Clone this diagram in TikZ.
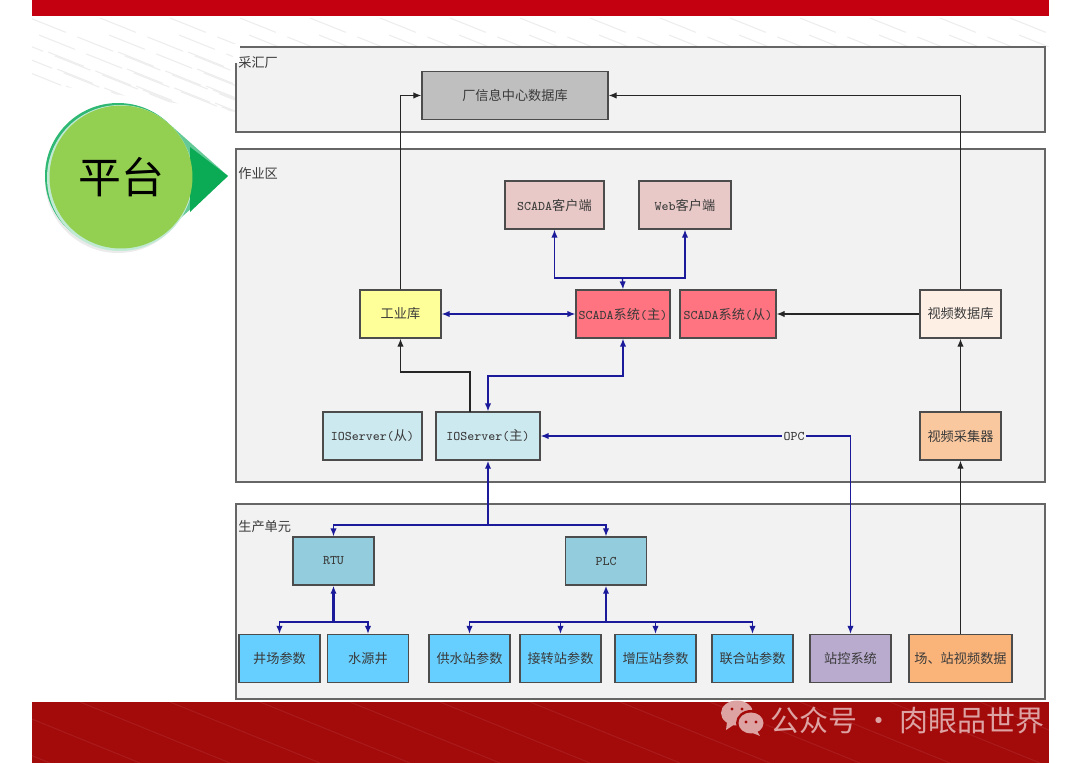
\documentclass[tikz,border=0pt]{standalone}
\usepackage{fontspec}
\setmainfont{Noto Sans CJK SC}
\usepackage{tikz}
\usetikzlibrary{arrows.meta}
\definecolor{barred}{HTML}{C40010}
\definecolor{footred}{HTML}{A30A0A}
\definecolor{panelbg}{HTML}{F2F2F2}
\definecolor{ink}{HTML}{3A3A3A}
\definecolor{linkblue}{HTML}{1A1A9A}
\definecolor{dbgray}{HTML}{BFBFBF}
\definecolor{clientc}{HTML}{E8C9C7}
\definecolor{scadac}{HTML}{FF7480}
\definecolor{iodbc}{HTML}{FFFF99}
\definecolor{videodb}{HTML}{FDEFE4}
\definecolor{ioc}{HTML}{CDE9F0}
\definecolor{capc}{HTML}{FAC89E}
\definecolor{unitc}{HTML}{93CDDD}
\definecolor{leafc}{HTML}{66CFFF}
\definecolor{stationc}{HTML}{B8ABCE}
\definecolor{videoc}{HTML}{FAB47A}
\definecolor{badge}{HTML}{93CF50}
\definecolor{badgerim}{HTML}{2FB874}
\definecolor{badgetip}{HTML}{0BAA55}
\definecolor{wmarkc}{HTML}{DDA3A3}
\newcommand{\lat}[1]{{\ttfamily #1}}
\tikzset{
  every node/.append style={text=ink},
}

\begin{document}
\begin{tikzpicture}[
    x=0.02cm, y=-0.02cm,
    >={Latex[length=4.5pt, width=3.6pt]},
    font=\fontsize{7.5}{9}\selectfont,
    panel/.style={draw=black!60, line width=0.7pt, fill=panelbg},
    lab/.style={anchor=west, inner sep=0pt},
    bx/.style={draw=black!70, line width=0.8pt, inner sep=0pt, minimum height=0.96cm,
               minimum width=1.62cm, align=center},
    dark/.style={->, line width=0.6pt, black!85},
    bluelink/.style={line width=0.7pt, linkblue},
    bluebus/.style={line width=1.2pt, linkblue},
]
\useasboundingbox (0,0) rectangle (1080,763);

% red bars
\fill[barred] (32,0) rectangle (1049,16);
\fill[footred] (32,702) rectangle (1049,763);
\begin{scope}
  \clip (32,702) rectangle (1049,763);
  \foreach \i in {0,...,14}
    \draw[white, opacity=0.07, line width=0.6pt] (\i*90-100,702) -- ++(150,61);
\end{scope}

% faint hatching
\begin{scope}
  \clip (32,18) -- (1049,18) -- (1049,47) -- (236,47) -- (236,112) -- (32,82) -- cycle;
  \foreach \i in {0,...,16}
    \foreach \j in {0,...,5}
      \draw[black!7, line width=0.6pt, dash pattern=on 22pt off 7pt]
        (\i*70-40+\j*9,18+\j*17) -- ++(220,88);
\end{scope}

% panels
\draw[panel] (236,47) rectangle (1045,132);
\draw[panel] (236,149) rectangle (1045,482);
\draw[panel] (236,504) rectangle (1045,699);
\fill[white] (233,44) rectangle (240,63);
\node[lab] (plant) at (238,63) {采汇厂};
\node[lab] (area) at (238,174) {作业区};
\node[lab] (prod) at (238,527) {生产单元};

% badge
\fill[black!8] (118,180) circle (73);
\fill[badgerim!75] (228,176) -- (166.4,121.4) -- (166.4,230.6) -- cycle;
\fill[badgerim] (118,176) circle (73);
\fill[white!70!badgerim] (120,178) circle (73);
\fill[badgetip] (228,176) -- (190,147) -- (190,212) -- cycle;
\node[circle, fill=badge, minimum size=2.86cm, inner sep=0pt, text=black,
      font=\fontsize{24.4}{28}\selectfont] (badge) at (121,177) {平台};

% top level
\node[bx, fill=dbgray, minimum width=3.72cm] (centerdb) at (515,95.5) {厂信息中心数据库};

% work area
\node[bx, fill=clientc, minimum width=1.98cm] (scadaclient) at (554.5,205) {\lat{SCADA}客户端};
\node[bx, fill=clientc, minimum width=1.84cm] (webclient) at (685,205) {\lat{Web}客户端};
\node[bx, fill=iodbc] (iodb) at (400.5,314) {工业库};
\node[bx, fill=scadac, minimum width=1.88cm] (scadam) at (623,314) {\lat{SCADA}系统\lat{(}主\lat{)}};
\node[bx, fill=scadac, minimum width=1.92cm] (scadas) at (728,314) {\lat{SCADA}系统\lat{(}从\lat{)}};
\node[bx, fill=videodb] (viddb) at (960.5,314) {视频数据库};
\node[bx, fill=ioc, minimum width=1.98cm] (ios) at (372.5,436) {\lat{IOServer(}从\lat{)}};
\node[bx, fill=ioc, minimum width=2.08cm] (iom) at (488,436) {\lat{IOServer(}主\lat{)}};
\node[bx, fill=capc] (vidcap) at (960.5,436) {视频采集器};

% production units
\node[bx, fill=unitc] (rtu) at (333.5,561) {\lat{RTU}};
\node[bx, fill=unitc] (plc) at (606,561) {\lat{PLC}};
\node[bx, fill=leafc] (wellf) at (279.5,658.5) {井场参数};
\node[bx, fill=leafc] (wsrc) at (368,658.5) {水源井};
\node[bx, fill=leafc] (supply) at (469.5,658.5) {供水站参数};
\node[bx, fill=leafc] (transf) at (560.5,658.5) {接转站参数};
\node[bx, fill=leafc] (boost) at (655.5,658.5) {增压站参数};
\node[bx, fill=leafc] (joint) at (752.5,658.5) {联合站参数};
\node[bx, fill=stationc] (stctl) at (850.5,658.5) {站控系统};
\node[bx, fill=videoc, minimum width=2.06cm] (vidsrc) at (960.5,658.5) {场、站视频数据};

% junctions
\coordinate (clientbus) at (622.5,278);
\coordinate (scadaturn) at (488,376);
\coordinate (iobend) at (470,372);
\coordinate (iotap) at (470,412);
\coordinate (fieldbus) at (488,525);
\coordinate (rtubus) at (333.5,622);
\coordinate (plcbus) at (606,622);
\coordinate (opcturn) at (850.5,436);

% black links
\draw[dark] (iodb.north) |- (centerdb.west);
\draw[dark] (viddb.north) |- (centerdb.east);
\draw[dark] (viddb.west) -- (scadas.east);
\draw[dark] (vidcap.north) -- (viddb.south);
\draw[dark] (vidsrc.north) -- (vidcap.south);
\draw[dark] (iotap) -- (iobend) -| (iodb.south);

% blue links
\draw[bluelink, <-] (scadaclient.south) |- (clientbus);
\draw[bluelink, <-] (webclient.south) |- (clientbus);
\draw[bluelink, ->] (clientbus) -- (scadam.north);
\draw[bluelink, <->] (iodb.east) -- (scadam.west);
\draw[bluelink, <->] (scadam.south) |- (scadaturn) -- (iom.north);
\draw[bluelink, <->] (iom.east) -- (opcturn) -- (stctl.north);
\node[fill=panelbg, inner sep=1pt] (opc) at (794,436) {\lat{OPC}};

\draw[bluebus, ->] (fieldbus) -- (iom.south);
\draw[bluelink, ->] (fieldbus) -| (rtu.north);
\draw[bluelink, ->] (fieldbus) -| (plc.north);
\draw[bluebus, ->] (rtubus) -- (rtu.south);
\draw[bluelink, ->] (rtubus) -| (wellf.north);
\draw[bluelink, ->] (rtubus) -| (wsrc.north);
\draw[bluebus, ->] (plcbus) -- (plc.south);
\draw[bluelink, ->] (plcbus) -| (supply.north);
\draw[bluelink, ->] (plcbus) -| (transf.north);
\draw[bluelink, ->] (plcbus) -| (boost.north);
\draw[bluelink, ->] (plcbus) -| (joint.north);

% watermark
\fill[wmarkc] (737,713) ellipse (16 and 12.5);
\fill[wmarkc] (727,722) -- (726,730) -- (735,724) -- cycle;
\fill[footred] (751,723) ellipse (15 and 13);
\fill[wmarkc] (751,723) ellipse (12.5 and 10.5);
\fill[wmarkc] (757,731) -- (760,736) -- (750,732) -- cycle;
\foreach \ex/\ey in {732/709, 742/709, 746/722, 756/722}
  \fill[footred] (\ex,\ey) circle (1.6);
\node[anchor=east, inner sep=0pt, text=wmarkc, font=\fontsize{16.5}{20}\selectfont]
  (wmark) at (1045,720) {公众号 · 肉眼品世界};
\end{tikzpicture}
\end{document}
